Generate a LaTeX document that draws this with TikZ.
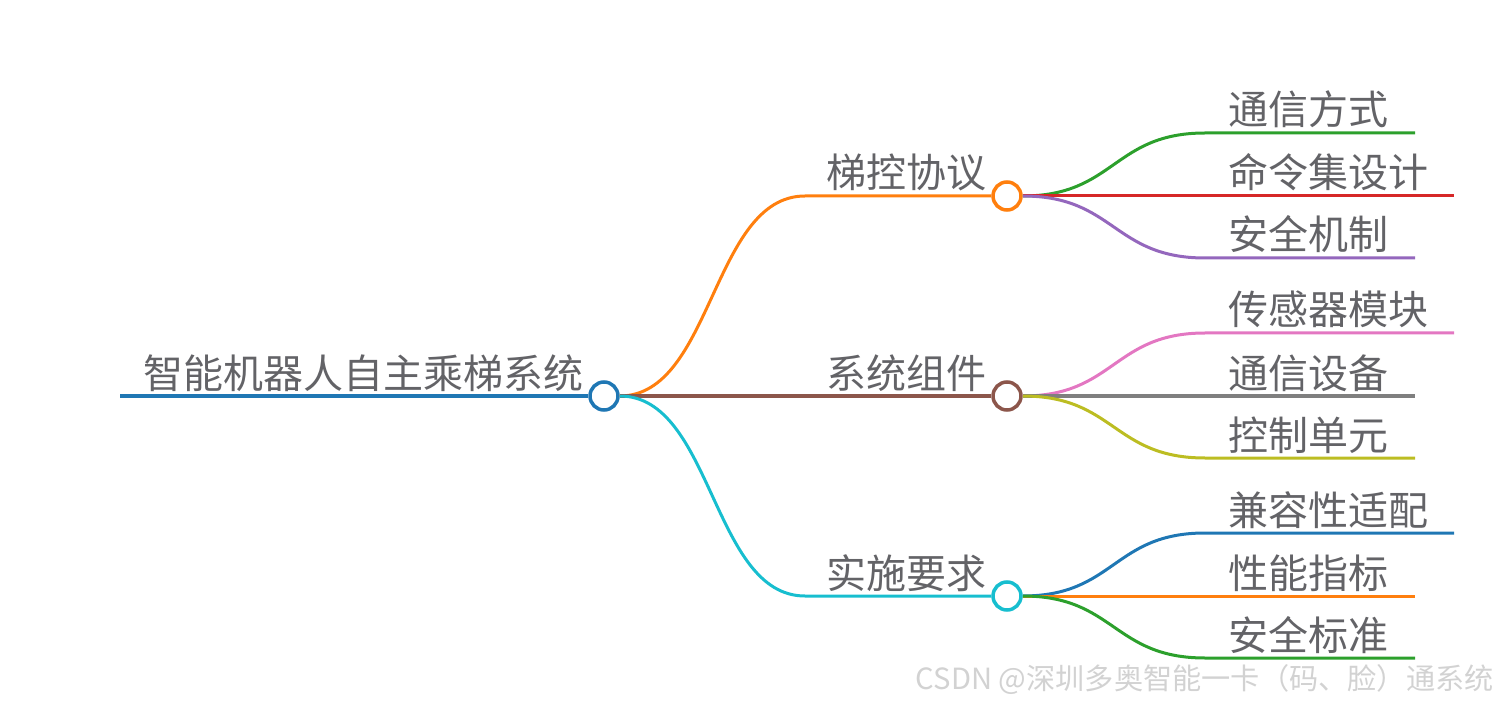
\documentclass[tikz,border=0pt]{standalone}
\usepackage{fontspec}
\newfontfamily\cjk{Noto Sans CJK SC}
\definecolor{cblue}{HTML}{1F77B4}
\definecolor{corange}{HTML}{FF7F0E}
\definecolor{cgreen}{HTML}{2CA02C}
\definecolor{cred}{HTML}{D62728}
\definecolor{cpurple}{HTML}{9467BD}
\definecolor{cbrown}{HTML}{8C564B}
\definecolor{cpink}{HTML}{E377C2}
\definecolor{cgray}{HTML}{7F7F7F}
\definecolor{colive}{HTML}{BCBD22}
\definecolor{ccyan}{HTML}{17BECF}
\definecolor{txtgray}{HTML}{636367}
\definecolor{wmgray}{HTML}{D2D2D2}
\begin{document}
\begin{tikzpicture}[x=0.5pt,y=-0.5pt,
  lbl/.style={anchor=base west, inner sep=0, font=\cjk\fontsize{20}{24}\selectfont, text=txtgray},
  dot/.style={circle, draw, fill=white, line width=1.75pt, minimum size=14pt, inner sep=0},
  branch/.style={line width=1.5pt},
  rootline/.style={line width=2pt}]
\useasboundingbox (0,0) rectangle (1498,705);

% nodes
\node[dot, draw=cblue] (root) at (604,396) {};
\node[dot, draw=corange] (c1) at (1007,196) {};
\node[dot, draw=cbrown] (c2) at (1007,396) {};
\node[dot, draw=ccyan] (c3) at (1007,596) {};

\coordinate (r0) at (120,396);
\coordinate (p1) at (805,196);
\coordinate (p2) at (805,396);
\coordinate (p3) at (805,596);

% leaf line starts and ends
\coordinate (a1) at (1205,133); \coordinate (b1) at (1415,133);
\coordinate (a2) at (1205,196); \coordinate (b2) at (1454,196);
\coordinate (a3) at (1205,258); \coordinate (b3) at (1415,258);
\coordinate (a4) at (1205,333); \coordinate (b4) at (1454,333);
\coordinate (a5) at (1205,396); \coordinate (b5) at (1415,396);
\coordinate (a6) at (1205,458); \coordinate (b6) at (1415,458);
\coordinate (a7) at (1205,533); \coordinate (b7) at (1454,533);
\coordinate (a8) at (1205,596); \coordinate (b8) at (1415,596);
\coordinate (a9) at (1205,658); \coordinate (b9) at (1415,658);

% root
\draw[rootline, cblue] (r0) -- (root.west);
\node[lbl] (troot) at (143,388) {智能机器人自主乘梯系统};

% level 1
\draw[branch, corange] (root.east) .. controls +(93,0) and +(-93,0) .. (p1) -- (c1.west);
\draw[branch, cbrown] (root.east) -- (p2) -- (c2.west);
\draw[branch, ccyan] (root.east) .. controls +(93,0) and +(-93,0) .. (p3) -- (c3.west);
\node[lbl] (t1) at (826,188) {梯控协议};
\node[lbl] (t2) at (826,388) {系统组件};
\node[lbl] (t3) at (826,588) {实施要求};

% level 2
\draw[branch, cgreen] (c1.east) .. controls +(92,0) and +(-92,0) .. (a1) -- (b1);
\draw[branch, cred] (c1.east) -- (a2) -- (b2);
\draw[branch, cpurple] (c1.east) .. controls +(92,0) and +(-92,0) .. (a3) -- (b3);
\draw[branch, cpink] (c2.east) .. controls +(92,0) and +(-92,0) .. (a4) -- (b4);
\draw[branch, cgray] (c2.east) -- (a5) -- (b5);
\draw[branch, colive] (c2.east) .. controls +(92,0) and +(-92,0) .. (a6) -- (b6);
\draw[branch, cblue] (c3.east) .. controls +(92,0) and +(-92,0) .. (a7) -- (b7);
\draw[branch, corange] (c3.east) -- (a8) -- (b8);
\draw[branch, cgreen] (c3.east) .. controls +(92,0) and +(-92,0) .. (a9) -- (b9);

\node[lbl] (l1) at (1228,125) {通信方式};
\node[lbl] (l2) at (1228,188) {命令集设计};
\node[lbl] (l3) at (1228,250) {安全机制};
\node[lbl] (l4) at (1228,325) {传感器模块};
\node[lbl] (l5) at (1228,388) {通信设备};
\node[lbl] (l6) at (1228,450) {控制单元};
\node[lbl] (l7) at (1228,525) {兼容性适配};
\node[lbl] (l8) at (1228,588) {性能指标};
\node[lbl] (l9) at (1228,650) {安全标准};

% watermark
\node[anchor=base east, inner sep=0, font=\cjk\fontsize{14.6}{16}\selectfont, text=wmgray] (wm) at (1494,689) {CSDN @深圳多奥智能一卡（码、脸）通系统};
\end{tikzpicture}
\end{document}
